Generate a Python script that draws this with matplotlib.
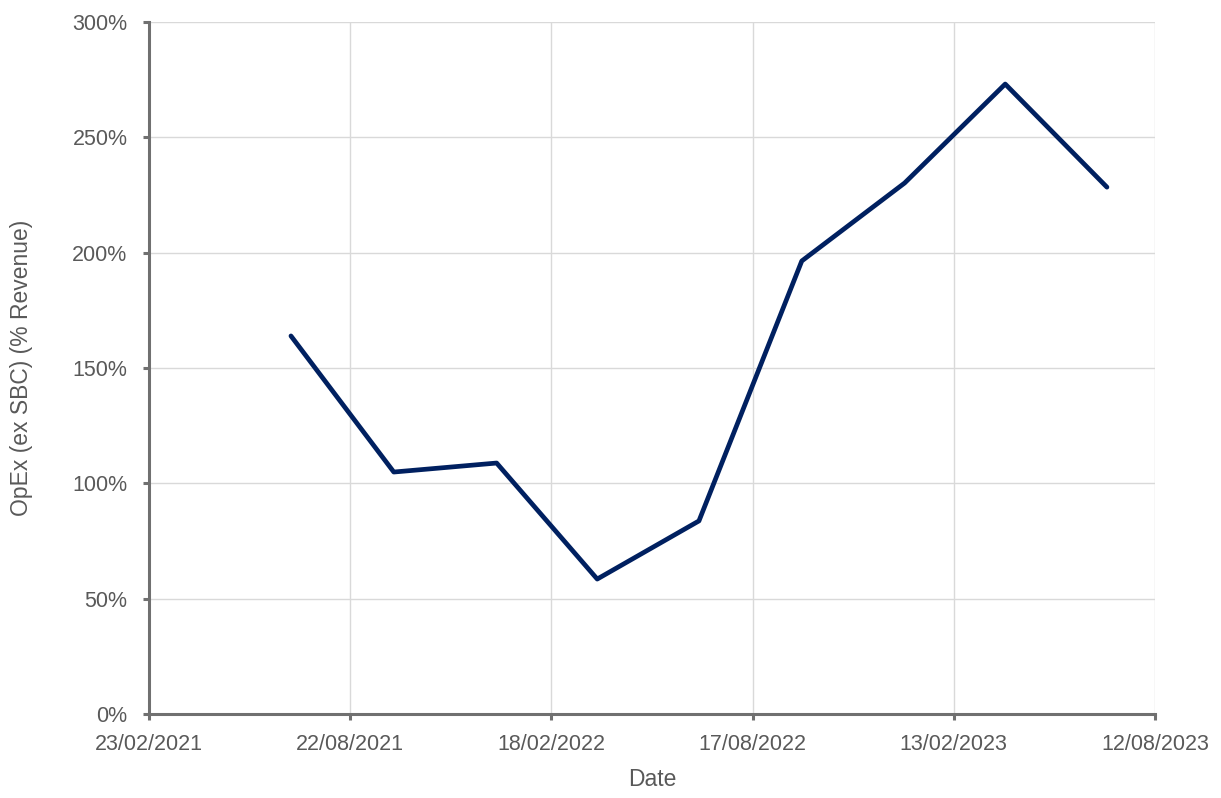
import datetime as dt

import matplotlib
matplotlib.use("Agg")
import matplotlib.pyplot as plt
import matplotlib.dates as mdates
from matplotlib.ticker import FuncFormatter


DATES = ["2021-06-30", "2021-09-30", "2021-12-31", "2022-03-31", "2022-06-30",
         "2022-09-30", "2022-12-31", "2023-03-31", "2023-06-30"]
OPEX_PCT = [163.9, 104.9, 108.8, 58.5, 83.7, 196.4, 230.2, 273.1, 228.4]

X_START = "2021-02-23"
X_END = "2023-08-12"
TICK_STEP_DAYS = 180

LINE_COLOR = "#002060"
AXIS_COLOR = "#707070"
TEXT_COLOR = "#595959"
GRID_COLOR = "#d9d9d9"

plt.rcParams["font.family"] = ["Liberation Sans", "DejaVu Sans"]


def main():
    fig = plt.figure(figsize=(12.21, 7.98), dpi=100)
    ax = fig.add_axes([149 / 1221, 84 / 798, (1155 - 149) / 1221, (714 - 22) / 798])

    x = [dt.datetime.strptime(d, "%Y-%m-%d") for d in DATES]
    ax.plot(x, OPEX_PCT, color=LINE_COLOR, linewidth=3.4, solid_joinstyle="round",
            solid_capstyle="round", zorder=3)

    start = dt.datetime.strptime(X_START, "%Y-%m-%d")
    end = dt.datetime.strptime(X_END, "%Y-%m-%d")
    ticks = []
    t = start
    while t <= end:
        ticks.append(t)
        t += dt.timedelta(days=TICK_STEP_DAYS)
    ax.set_xlim(start, end)
    ax.set_xticks(ticks)
    ax.xaxis.set_major_formatter(mdates.DateFormatter("%d/%m/%Y"))

    ax.set_ylim(0, 300)
    ax.set_yticks(range(0, 301, 50))
    ax.yaxis.set_major_formatter(FuncFormatter(lambda v, _: f"{v:.0f}%"))

    ax.grid(True, color=GRID_COLOR, linewidth=1.0)
    ax.set_axisbelow(True)

    for side in ["top", "right"]:
        ax.spines[side].set_visible(False)
    for side in ["left", "bottom"]:
        ax.spines[side].set_color(AXIS_COLOR)
        ax.spines[side].set_linewidth(2.2)

    ax.tick_params(axis="both", colors=AXIS_COLOR, width=2.2, length=4.5,
                   labelcolor=TEXT_COLOR, labelsize=15.5)
    ax.tick_params(axis="y", pad=11)
    ax.tick_params(axis="x", pad=10)

    ax.set_xlabel("Date", fontsize=16.5, color=TEXT_COLOR, labelpad=9)
    ax.set_ylabel("OpEx (ex SBC) (% Revenue)", fontsize=16.5, color=TEXT_COLOR, labelpad=28)

    fig.savefig("out.png", dpi=100)
    plt.close(fig)


if __name__ == "__main__":
    main()
